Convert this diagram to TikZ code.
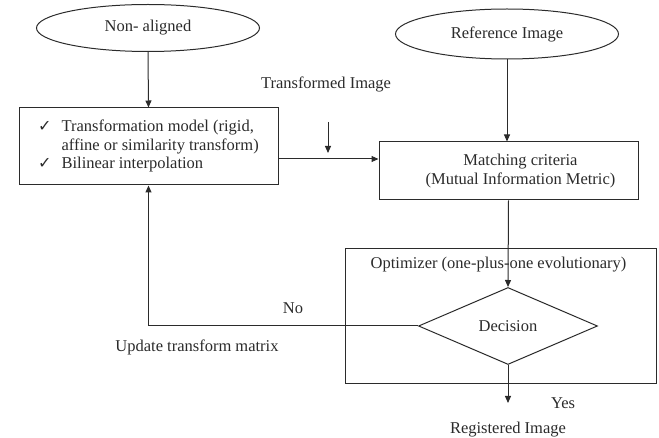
\documentclass[tikz,border=0pt]{standalone}
\usepackage{fontspec}
\setmainfont{Liberation Serif}
\newfontfamily\serifface{Liberation Serif}
\newfontfamily\symbfont{DejaVu Sans}
\usetikzlibrary{shapes.geometric,arrows.meta,positioning}
\definecolor{inkgray}{HTML}{2B2B2B}
\newcommand{\tick}{{\symbfont\fontsize{16}{16}\selectfont ✓}}
\tikzset{
  every node/.style={font=\serifface\fontsize{16.5}{18.5}\selectfont, text=inkgray},
  term/.style={ellipse, draw=inkgray, line width=1pt, inner sep=0pt},% start and end ovals
  block/.style={rectangle, draw=inkgray, line width=1pt, inner sep=0pt},
  arrow/.style={draw=inkgray, line width=1pt, -{Triangle[length=7pt,width=6pt]}}
}
\begin{document}
\begin{tikzpicture}[x=1pt,y=-1pt]
\useasboundingbox (0,0) rectangle (659,438);

% sources
\node[term, minimum width=223pt, minimum height=47pt] (nonaligned) at (148,28) {Non- aligned};
\node[term, minimum width=223pt, minimum height=50pt] (refimg) at (507,34) {Reference Image};

% transformation and matching
\node[block, minimum width=259pt, minimum height=77pt, align=left] (transform) at (148.5,146.5)
  {\begin{tabular}{@{}l@{\hspace{10pt}}l@{}}
   \tick & Transformation model (rigid,\\
         & affine or similarity transform)\\
   \tick & Bilinear interpolation
   \end{tabular}};
\node[block, minimum width=259pt, minimum height=58pt, align=center] (match) at (508.5,171)
  {\hspace*{24pt}Matching criteria\\\hspace*{24pt}(Mutual Information Metric)};

% optimizer with the decision inside
\node[block, minimum width=311pt, minimum height=135pt] (opt) at (500.5,316.5) {};
\node (optlabel) at (498.5,265) {Optimizer (one-plus-one evolutionary)};
\node[diamond, draw=inkgray, line width=1pt, inner sep=0pt, aspect=2.3,
      minimum width=179pt, minimum height=77pt] (decision) at (508,326) {Decision};

% labels
\node (tlabel) at (326,84) {Transformed Image};
\node (nolabel) at (293,308) {No};
\node (updlabel) at (197,347) {Update transform matrix};
\node (yeslabel) at (563,403) {Yes};
\node (reglabel) at (508,430) {Registered Image};

\coordinate (tin) at (328,122);
\coordinate (tout) at (328,153);
\coordinate (regend) at (508,403);

% connectors
\draw[arrow] (nonaligned.south) -- (transform.north);
\draw[arrow] (refimg.south) -- (refimg.south |- match.north);
\draw[arrow] (tin) -- (tout);
\draw[arrow] ([yshift=-12.5pt]transform.east) -- ([yshift=-12.5pt]transform.east -| match.west);
\draw[arrow] (match.south) -- (decision.north);
\draw[arrow] (decision.south) -- (regend);
\draw[arrow] (decision.west) -| (transform.south);
\end{tikzpicture}
\end{document}
